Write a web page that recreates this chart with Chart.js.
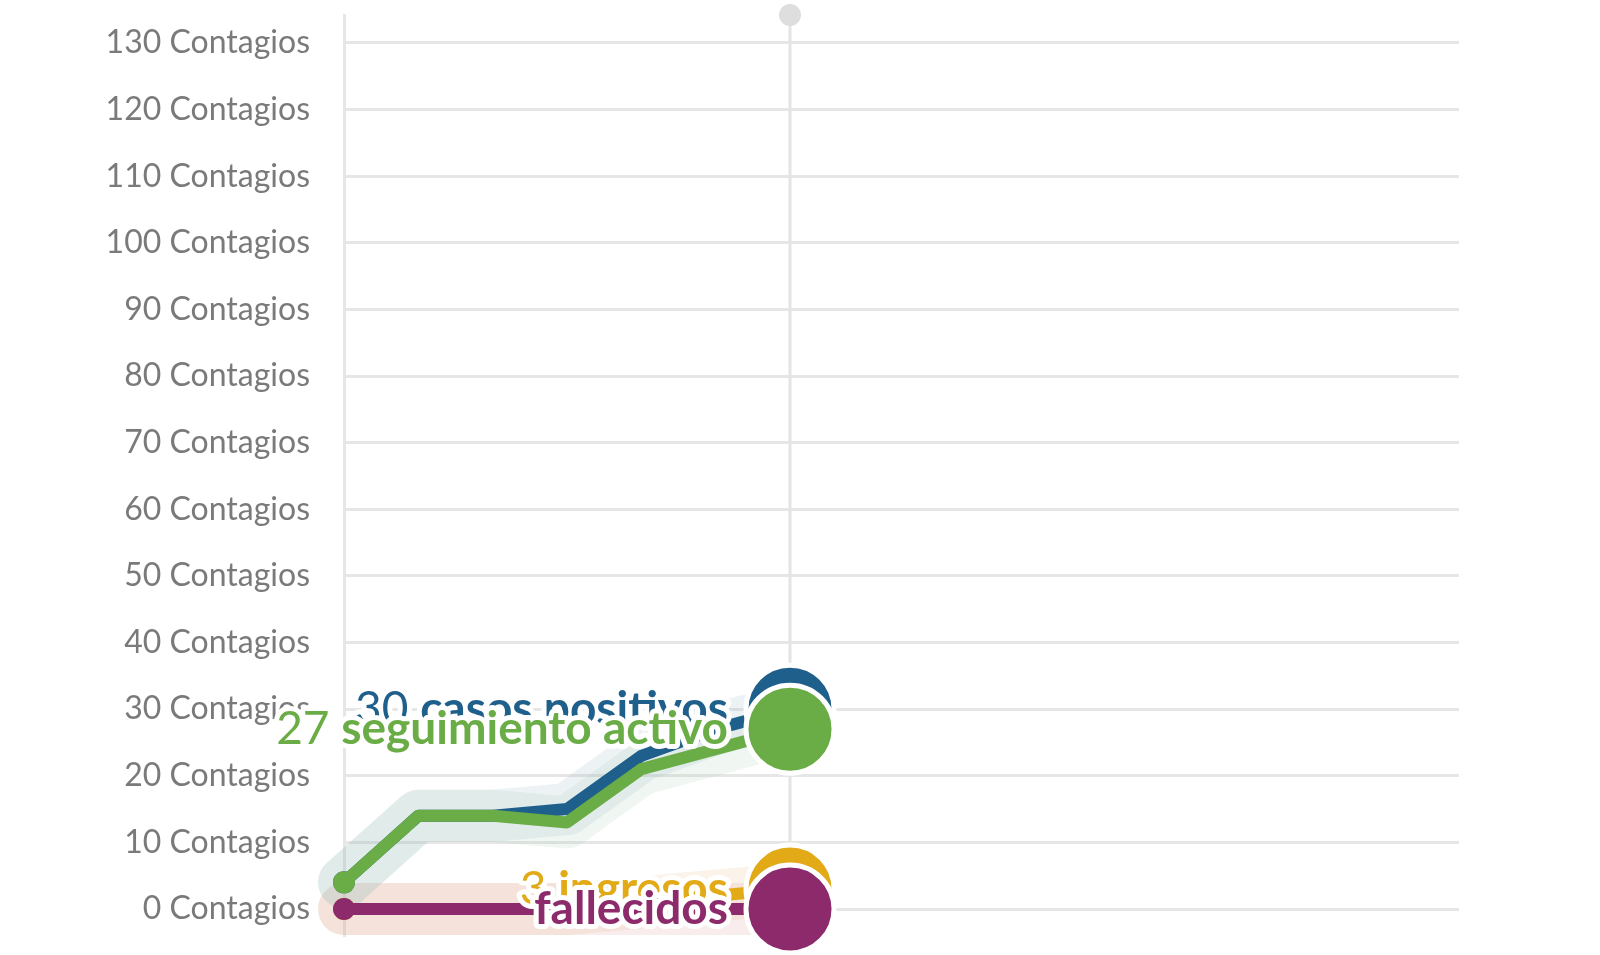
<!DOCTYPE html>
<html>
<head>
<meta charset="utf-8">
<script src="https://cdn.jsdelivr.net/npm/chart.js@4.4.1/dist/chart.umd.min.js"></script>
<style>
  html, body { margin: 0; padding: 0; background: #fff; }
  canvas { display: block; }
</style>
</head>
<body>
<canvas id="myChart" width="1600" height="955"></canvas>
<script>
// eje x: días (sólo los 7 primeros tienen datos)
const dias = ['1', '2', '3', '4', '5', '6', '7', '8', '9', '10', '11', '12', '13', '14', '15', '16'];

const positivos = [4, 14, 14, 15, 23, 27, 30];
const seguimiento = [4, 14, 14, 13, 21, 24, 27];
const ingresos = [0, 0, 0, 0, 1, 2, 3];
const fallecidos = [0, 0, 0, 0, 0, 0, 0];

const nombres = ['casos positivos', 'seguimiento activo', 'ingresos', 'fallecidos'];
const mostrarNumero = [true, true, true, false];

const colores = ['#1f5f8b', '#6aac45', '#e3aa18', '#8c2a6c'];
const halos = ['rgba(150,185,195,0.17)', 'rgba(165,200,180,0.17)', 'rgba(235,185,140,0.18)', 'rgba(215,150,150,0.18)'];

const series = [positivos, seguimiento, ingresos, fallecidos];
const ultimo = positivos.length - 1;

function banda(i) {
  return {
    data: series[i],
    borderColor: halos[i],
    borderWidth: 52,
    borderCapStyle: 'round',
    borderJoinStyle: 'round',
    pointRadius: 0,
    tension: 0,
    clip: false,
    order: 10 + i,
  };
}

function linea(i, order) {
  return {
    data: series[i],
    borderColor: colores[i],
    backgroundColor: colores[i],
    borderWidth: 12,
    borderCapStyle: 'round',
    borderJoinStyle: 'round',
    tension: 0,
    clip: false,
    order: order,
    pointBackgroundColor: colores[i],
    pointBorderColor: '#fff',
    pointRadius: (c) => (c.dataIndex === ultimo ? 44 : c.dataIndex === 0 ? 11 : 0),
    pointBorderWidth: (c) => (c.dataIndex === ultimo ? 5 : 0),
    pointHoverRadius: 0,
  };
}

// línea vertical del último día con su punto gris arriba
const lineaHoy = {
  id: 'lineaHoy',
  beforeDatasetsDraw(chart) {
    const { ctx, chartArea, scales } = chart;
    const x = scales.x.getPixelForValue(ultimo);
    ctx.save();
    ctx.strokeStyle = '#e4e4e4';
    ctx.lineWidth = 3;
    ctx.beginPath();
    ctx.moveTo(x, chartArea.top);
    ctx.lineTo(x, chartArea.bottom);
    ctx.stroke();
    ctx.fillStyle = '#dedede';
    ctx.beginPath();
    ctx.arc(x, chartArea.top, 11, 0, Math.PI * 2);
    ctx.fill();
    ctx.restore();
  },
};

// etiquetas al final de cada serie
const etiquetas = {
  id: 'etiquetas',
  afterDatasetsDraw(chart) {
    const { ctx, scales } = chart;
    const fNum = '400 46px Lato';
    const fTxt = '700 46px Lato';
    [0, 2, 1, 3].forEach((i) => {
      const valor = series[i][ultimo];
      const px = scales.x.getPixelForValue(ultimo);
      const py = scales.y.getPixelForValue(valor);
      const num = mostrarNumero[i] ? valor + ' ' : '';
      ctx.save();
      ctx.textBaseline = 'middle';
      ctx.textAlign = 'left';
      ctx.font = fNum;
      const wNum = ctx.measureText(num).width;
      ctx.font = fTxt;
      const wTxt = ctx.measureText(nombres[i]).width;
      const derecha = px - 62;
      const x0 = derecha - wTxt - wNum;
      ctx.lineJoin = 'round';
      ctx.lineWidth = 10;
      ctx.strokeStyle = '#fff';
      ctx.font = fNum;
      if (num) ctx.strokeText(num, x0, py);
      ctx.font = fTxt;
      ctx.strokeText(nombres[i], x0 + wNum, py);
      ctx.fillStyle = colores[i];
      ctx.font = fNum;
      if (num) ctx.fillText(num, x0, py);
      ctx.font = fTxt;
      ctx.fillText(nombres[i], x0 + wNum, py);
      ctx.restore();
    });
  },
};

const ctx = document.getElementById('myChart').getContext('2d');
new Chart(ctx, {
  type: 'line',
  data: {
    labels: dias,
    datasets: [
      banda(0), banda(1), banda(2), banda(3),
      linea(0, 4), linea(2, 3), linea(1, 2), linea(3, 1),
    ],
  },
  options: {
    responsive: false,
    animation: false,
    devicePixelRatio: 1,
    layout: { autoPadding: false, padding: { left: 0, right: 141, top: 15, bottom: 20 } },
    plugins: { legend: { display: false }, tooltip: { enabled: false } },
    scales: {
      x: { type: 'category', display: false, offset: false },
      y: {
        min: -3.9,
        max: 134.2,
        afterFit(s) {
          s.width = 344;
          s.paddingTop = 0;
          s.paddingBottom = 0;
        },
        afterBuildTicks(s) { s.ticks = s.ticks.filter((t) => t.value >= 0 && t.value % 10 === 0); },
        ticks: {
          stepSize: 10,
          includeBounds: false,
          padding: 34,
          color: '#7a7a7a',
          font: { family: 'Lato', size: 32 },
          callback: (v) => v + ' Contagios',
        },
        grid: { color: '#e6e6e6', lineWidth: 3, drawTicks: false },
        border: { display: true, color: '#e6e6e6', width: 3 },
      },
    },
  },
  plugins: [lineaHoy, etiquetas],
});
</script>
</body>
</html>
